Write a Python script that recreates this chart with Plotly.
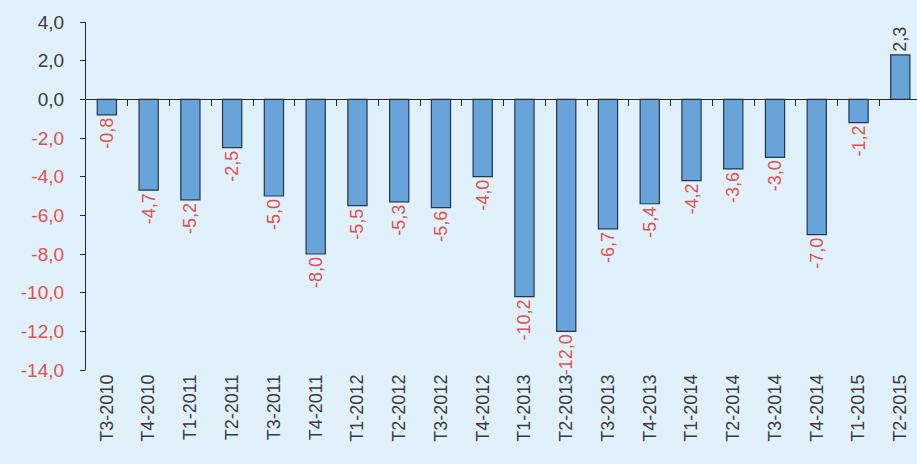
import plotly.graph_objects as go

categories = ["T3-2010", "T4-2010", "T1-2011", "T2-2011", "T3-2011", "T4-2011",
              "T1-2012", "T2-2012", "T3-2012", "T4-2012", "T1-2013", "T2-2013",
              "T3-2013", "T4-2013", "T1-2014", "T2-2014", "T3-2014", "T4-2014",
              "T1-2015", "T2-2015"]
values = [-0.8, -4.7, -5.2, -2.5, -5.0, -8.0, -5.5, -5.3, -5.6, -4.0, -10.2, -12.0,
          -6.7, -5.4, -4.2, -3.6, -3.0, -7.0, -1.2, 2.3]
y_ticks = [4, 2, 0, -2, -4, -6, -8, -10, -12, -14]

RED = "#e4504a"
DARK = "#3a3a3a"
BG = "#e0f1fb"
FONT = "Liberation Sans, Arial"

def fmt(v):
    return f"{v:.1f}".replace(".", ",")

labels = [fmt(v) for v in values]
label_colors = [RED if v < 0 else DARK for v in values]
ytick_text = [f'<span style="color:{RED if t < 0 else DARK}">{fmt(t)}</span>' for t in y_ticks]

fig = go.Figure()
fig.add_trace(go.Bar(
    x=categories, y=values,
    marker=dict(color="#68a3d9", line=dict(color="#23384f", width=1.2)),
    text=labels, textposition="outside", textangle=-90,
    constraintext="none",
    textfont=dict(color=label_colors, size=18, family=FONT),
    cliponaxis=False,
))

ymin, ymax = -14, 4
n = len(categories)
fig.update_layout(
    width=917, height=464,
    margin=dict(l=86, r=0, t=22, b=94),
    paper_bgcolor=BG, plot_bgcolor=BG,
    bargap=0.54,
    showlegend=False,
    uniformtext=dict(minsize=18, mode="show"),
    font=dict(family=FONT, size=18, color=DARK),
    xaxis=dict(
        type="category", range=[-0.5, n - 0.6],
        showline=False, ticks="", showgrid=False, zeroline=False,
        tickangle=-90, tickfont=dict(size=18, color=DARK),
    ),
    xaxis2=dict(
        overlaying="x", anchor="free",
        position=(0 - ymin) / (ymax - ymin),
        range=[-0.5, n - 0.6],
        tickvals=[i + 0.5 for i in range(n - 1)],
        showticklabels=False, showgrid=False, zeroline=False,
        showline=True, linecolor="#2b2b2b", linewidth=1.2,
        ticks="outside", ticklen=6, tickwidth=1.2, tickcolor="#2b2b2b",
    ),
    yaxis=dict(
        range=[ymin, ymax], tickvals=y_ticks, ticktext=ytick_text,
        showgrid=False, zeroline=False,
        showline=True, linecolor="#2b2b2b", linewidth=1.2,
        ticks="outside", ticklen=5, tickwidth=1.2, tickcolor="#2b2b2b",
        tickfont=dict(size=19), ticklabelstandoff=12,
    ),
)
# invisible helper so the overlay axis is drawn
fig.add_trace(go.Scatter(x=[-0.5, n - 0.6], y=[0, 0], xaxis="x2", mode="none",
                         hoverinfo="skip", showlegend=False))

fig.write_html("out.html")
